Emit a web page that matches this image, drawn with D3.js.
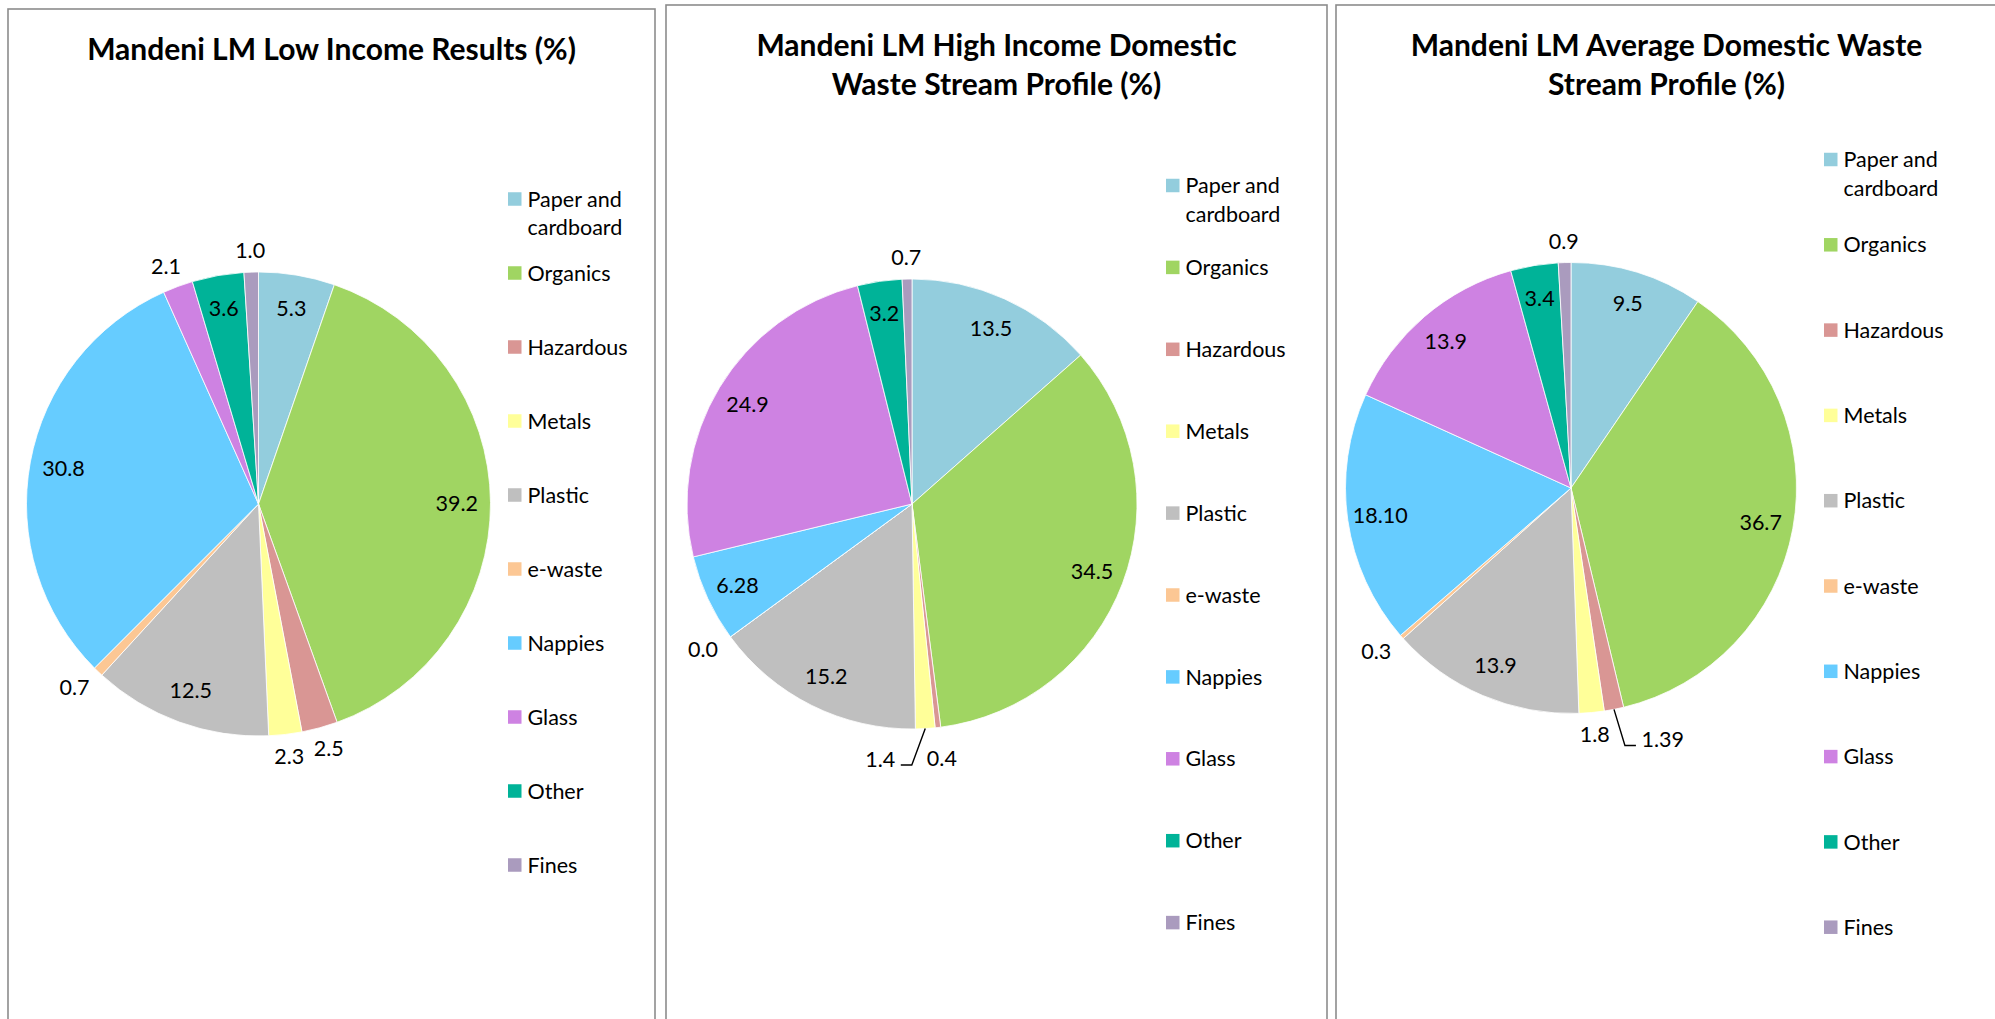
<!DOCTYPE html>
<html>
<head>
<meta charset="utf-8">
<script src="https://cdn.jsdelivr.net/npm/d3@7"></script>
<style>
  html, body { margin: 0; padding: 0; background: #ffffff; }
  svg { display: block; font-family: Lato, "Open Sans", sans-serif; }
</style>
</head>
<body>
<svg id="chart" width="1995" height="1019"></svg>
<script>
// Waste stream categories (legend order = slice order, clockwise from 12 o'clock)
const categories = ["Paper and cardboard", "Organics", "Hazardous", "Metals", "Plastic",
                    "e-waste", "Nappies", "Glass", "Other", "Fines"];

// Share of each category, percent
const lowIncome     = [5.3, 39.2, 2.5, 2.3, 12.5, 0.7, 30.8, 2.1, 3.6, 1.0];
const highIncome    = [13.5, 34.5, 0.4, 1.4, 15.2, 0.0, 6.28, 24.9, 3.2, 0.7];
const averageIncome = [9.5, 36.7, 1.39, 1.8, 13.9, 0.3, 18.10, 13.9, 3.4, 0.9];

// Data label text as printed on each slice
const lowLabels     = ["5.3", "39.2", "2.5", "2.3", "12.5", "0.7", "30.8", "2.1", "3.6", "1.0"];
const highLabels    = ["13.5", "34.5", "0.4", "1.4", "15.2", "0.0", "6.28", "24.9", "3.2", "0.7"];
const averageLabels = ["9.5", "36.7", "1.39", "1.8", "13.9", "0.3", "18.10", "13.9", "3.4", "0.9"];

// Chart titles (one entry per line)
const lowTitle     = ["Mandeni LM Low Income Results (%)"];
const highTitle    = ["Mandeni LM High Income Domestic", "Waste Stream Profile (%)"];
const averageTitle = ["Mandeni LM Average Domestic Waste", "Stream Profile (%)"];

const palette = ["#93CDDD", "#A0D562", "#D99694", "#FFFF99", "#BFBFBF",
                 "#FCC794", "#66CCFF", "#CE82E2", "#00B398", "#AA9BBE"];

const color = d3.scaleOrdinal().domain(categories).range(palette);

// Panel layout: frame, pie placement, legend placement, and labels pushed aside
const panels = [
  { title: lowTitle, values: lowIncome, labels: lowLabels,
    frame: { x: 8, y: 9, w: 647 }, titleY: 60,
    pie: { cx: 258.5, cy: 504, r: 232 },
    legend: { x: 508, top: 199, step: 74 },
    nudge: {} },
  { title: highTitle, values: highIncome, labels: highLabels,
    frame: { x: 666, y: 5, w: 661 }, titleY: 56,
    pie: { cx: 912, cy: 504, r: 225 },
    legend: { x: 1166, top: 185.5, step: 81.9 },
    nudge: { "Metals": [-47, 9], "Hazardous": [0, 9] } },
  { title: averageTitle, values: averageIncome, labels: averageLabels,
    frame: { x: 1336, y: 5, w: 661 }, titleY: 56,
    pie: { cx: 1571, cy: 488, r: 225.5 },
    legend: { x: 1824, top: 159.5, step: 85.3 },
    nudge: { "Hazardous": [41, 9] } }
];

const svg = d3.select("#chart");
const H = 1019;
const labelSize = 21.5;
const legendSize = 21.5;
const titleSize = 30;
const insideFactor = 0.855;   // inside labels sit near the outer rim
const outsideGap = 14;        // gap between rim and outside labels
const outsideThreshold = 3;   // slices smaller than this get their label outside

const pie = d3.pie().sort(null).value(d => d.value);

// measure helper for label boxes
const measurer = svg.append("text").attr("font-size", labelSize).attr("visibility", "hidden");
function textWidth(str) {
  measurer.text(str);
  return measurer.node().getComputedTextLength();
}

panels.forEach(p => {
  const g = svg.append("g");

  // chart frame
  g.append("rect")
    .attr("x", p.frame.x).attr("y", p.frame.y)
    .attr("width", p.frame.w).attr("height", H + 20)
    .attr("fill", "#ffffff")
    .attr("stroke", "#8c8c8c").attr("stroke-width", 1.6);

  // title
  const tcx = p.frame.x + p.frame.w / 2;
  g.append("text")
    .attr("text-anchor", "middle")
    .attr("font-weight", "bold")
    .attr("font-size", titleSize)
    .attr("fill", "#000")
    .selectAll("tspan")
    .data(p.title)
    .join("tspan")
    .attr("x", tcx)
    .attr("y", (d, i) => p.titleY + i * 39)
    .text(d => d);

  const rows = categories.map((c, i) => ({ name: c, value: p.values[i], label: p.labels[i] }));
  const arcs = pie(rows);
  const arc = d3.arc().innerRadius(0).outerRadius(p.pie.r);

  const pg = g.append("g").attr("transform", `translate(${p.pie.cx},${p.pie.cy})`);

  pg.selectAll("path.slice")
    .data(arcs)
    .join("path")
    .attr("class", "slice")
    .attr("d", arc)
    .attr("fill", d => color(d.data.name))
    .attr("stroke", "#ffffff")
    .attr("stroke-width", 0.8)
    .attr("stroke-linejoin", "round");

  // data labels
  arcs.forEach(d => {
    const m = (d.startAngle + d.endAngle) / 2;
    const s = Math.sin(m), c = -Math.cos(m);
    let lx, ly;
    if (d.data.value >= outsideThreshold) {
      lx = insideFactor * p.pie.r * s;
      ly = insideFactor * p.pie.r * c;
    } else {
      const hw = textWidth(d.data.label) / 2 + 5;
      const hh = 7.5;
      const R = p.pie.r + outsideGap;
      lx = R * s + hw * s;
      ly = R * c + hh * c;
    }
    const n = p.nudge[d.data.name];
    const natX = lx;
    if (n) { lx += n[0]; ly += n[1]; }

    pg.append("text")
      .attr("x", lx)
      .attr("y", ly + 0.36 * labelSize)
      .attr("text-anchor", "middle")
      .attr("font-size", labelSize)
      .attr("fill", "#000")
      .text(d.data.label);

    // leader line for labels pushed away from their slice
    if (n && Math.abs(n[0]) > 15) {
      const w = textWidth(d.data.label);
      const dir = lx < natX ? 1 : -1;            // side of the label facing the slice
      const edge = lx + dir * w / 2;
      const pts = [
        [p.pie.r * s, p.pie.r * c],
        [edge + dir * 16.5, ly + 6],
        [edge + dir * 5.5, ly + 6]
      ];
      pg.append("path")
        .attr("d", d3.line()(pts))
        .attr("fill", "none")
        .attr("stroke", "#000")
        .attr("stroke-width", 1.4);
    }
  });

  // legend
  const lg = g.append("g");
  categories.forEach((name, i) => {
    const rowY = p.legend.top + i * p.legend.step;
    lg.append("rect")
      .attr("x", p.legend.x).attr("y", rowY - 6.75)
      .attr("width", 13.5).attr("height", 13.5)
      .attr("fill", color(name));
    const words = name === "Paper and cardboard" ? ["Paper and", "cardboard"] : [name];
    const t = lg.append("text")
      .attr("font-size", legendSize)
      .attr("fill", "#000");
    words.forEach((w, k) => {
      t.append("tspan")
        .attr("x", p.legend.x + 19.5)
        .attr("y", rowY + 7.6 + k * 28.5)
        .text(w);
    });
  });
});

measurer.remove();
</script>
</body>
</html>
